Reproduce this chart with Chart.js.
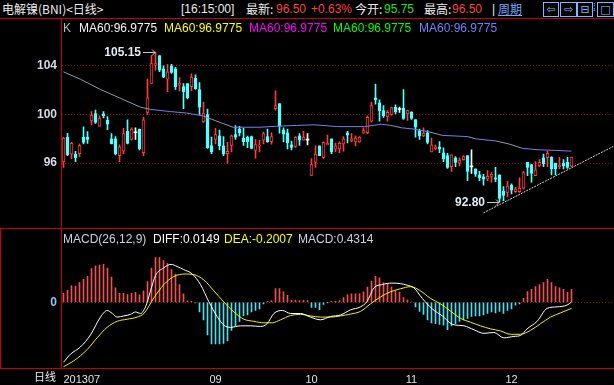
<!DOCTYPE html>
<html>
<head>
<meta charset="utf-8">
<script src="https://cdn.jsdelivr.net/npm/chart.js@4.4.1/dist/chart.umd.min.js"></script>
<style>
  body { margin:0; background:#000; width:614px; height:385px; overflow:hidden; position:relative;
         font-family:'Liberation Sans', Arial, sans-serif; }
  canvas { position:absolute; left:0; }
  .t { position:absolute; white-space:nowrap; font-size:12px; line-height:14px; color:#ececec; }
  .cjk { font-family:'Noto Sans CJK SC', sans-serif; }
  .rl { position:absolute; background:#c80000; }
  .ico { position:absolute; top:2px; height:13px; border:1px solid #7fb8ff; color:#7fb8ff;
         font-size:11px; line-height:13px; text-align:center; font-family:'DejaVu Sans', sans-serif; }
</style>
</head>
<body>
<canvas id="main" width="614" height="209" style="top:19px"></canvas>
<canvas id="macd" width="614" height="156" style="top:229px"></canvas>

<!-- cabecera -->
<div class="t cjk" style="left:2px;top:2px">电解镍(BNI)&lt;日线&gt;</div>
<div class="t" style="left:181px;top:2px">[16:15:00]</div>
<div class="t cjk" style="left:246px;top:2px">最新:</div>
<div class="t" style="left:276px;top:2px;color:#ff4040">96.50</div>
<div class="t" style="left:311px;top:2px;color:#ff4040">+0.63%</div>
<div class="t cjk" style="left:355px;top:2px">今开:</div>
<div class="t" style="left:384px;top:2px;color:#20e020">95.75</div>
<div class="t cjk" style="left:424px;top:2px">最高:</div>
<div class="t" style="left:452px;top:2px;color:#ff4040">96.50</div>
<div class="t" style="left:492px;top:2px">|</div>
<div class="t cjk" style="left:498px;top:2px;color:#70a8ff;text-decoration:underline">周期</div>
<div class="ico" style="left:543px;width:14px">⇦</div>
<div class="ico" style="left:560px;width:15px">⇨</div>
<div class="ico" style="left:577px;width:14px">⊟</div>
<div class="t" style="left:593px;top:1px;color:#7fb8ff;font-size:10px">⁞</div>
<div class="ico" style="left:597px;width:15px">□</div>

<!-- leyendas -->
<div class="t" style="left:63px;top:21px;color:#b4b8c8">K</div>
<div class="t" style="left:79px;top:21px;color:#f4f4f4">MA60:96.9775</div>
<div class="t" style="left:164px;top:21px;color:#ffff00">MA60:96.9775</div>
<div class="t" style="left:249px;top:21px;color:#ff00ff">MA60:96.9775</div>
<div class="t" style="left:333px;top:21px;color:#00ff00">MA60:96.9775</div>
<div class="t" style="left:419px;top:21px;color:#7080ff">MA60:96.9775</div>

<div class="t" style="left:63px;top:232px;color:#c8d2e0">MACD(26,12,9)</div>
<div class="t" style="left:153px;top:232px;color:#ffffff">DIFF:0.0149</div>
<div class="t" style="left:224px;top:232px;color:#ffff00">DEA:-0.2007</div>
<div class="t" style="left:298px;top:232px;color:#c8d2e0">MACD:0.4314</div>

<div class="t cjk" style="left:34px;top:369px;font-size:11px">日线</div>

<!-- bordes rojos -->
<div class="rl" style="left:0;top:18px;width:614px;height:1px"></div>
<div class="rl" style="left:61px;top:18px;width:1px;height:351px"></div>
<div class="rl" style="left:0;top:228px;width:614px;height:1px"></div>
<div class="rl" style="left:0;top:368px;width:614px;height:1px"></div>
<div class="rl" style="left:0;top:228px;width:1px;height:141px"></div>

<script>
// --- DATOS (velas diarias, julio-diciembre 2013) ---
const opens = [96.10, 98.13, 96.73, 96.75, 96.78, 98.11, 98.13, 99.47, 100.07, 99.03,
  100.05, 99.52, 97.99, 97.99, 96.61, 96.97, 98.62, 97.94, 98.50, 98.79,
  96.85, 100.17, 102.55, 104.05, 104.85, 103.76, 102.91, 104.00, 103.76, 102.42,
  102.30, 102.55, 102.30, 102.98, 102.06, 99.39, 100.00, 97.45, 97.94, 98.25,
  97.41, 96.78, 97.45, 98.35, 98.79, 98.06, 98.13, 98.18, 97.04, 97.40,
  97.89, 98.18, 97.77, 100.48, 100.90, 98.71, 98.50, 97.50, 97.38, 98.25,
  97.89, 97.89, 94.98, 96.05, 97.41, 96.44, 97.50, 97.99, 97.14, 97.16,
  97.58, 98.50, 97.82, 97.75, 97.75, 98.47, 98.50, 99.44, 101.38, 100.97,
  100.32, 99.80, 100.00, 100.61, 100.41, 100.53, 100.05, 100.17, 99.59, 98.67,
  98.23, 98.50, 96.92, 97.16, 97.33, 96.85, 96.61, 95.71, 96.44, 96.00,
  96.29, 96.61, 95.68, 95.52, 95.03, 94.86, 94.67, 94.91, 94.79, 95.03,
  93.70, 93.58, 94.18, 93.65, 93.65, 93.94, 96.07, 95.88, 94.96, 95.76,
  96.44, 96.44, 96.48, 96.00, 95.71, 96.00, 96.07, 95.75];
const highs = [98.10, 98.45, 97.70, 96.97, 97.58, 98.98, 98.59, 100.24, 100.36, 99.88,
  100.24, 99.83, 98.42, 98.18, 97.50, 98.86, 99.56, 98.91, 98.91, 98.79,
  99.76, 102.91, 104.85, 105.15, 104.85, 104.00, 104.12, 104.12, 103.88, 103.03,
  102.55, 102.55, 103.35, 103.27, 102.62, 101.02, 100.44, 98.13, 98.86, 98.71,
  98.18, 97.70, 98.30, 99.08, 99.03, 98.86, 98.23, 98.23, 97.94, 97.87,
  98.55, 98.79, 98.50, 101.94, 100.90, 98.91, 98.79, 97.82, 98.18, 98.42,
  98.62, 98.42, 96.36, 97.41, 97.41, 97.75, 98.30, 97.99, 97.65, 97.75,
  98.18, 98.62, 98.42, 98.25, 98.18, 98.91, 99.88, 101.02, 102.50, 101.21,
  100.73, 100.32, 100.61, 100.80, 100.61, 102.06, 100.36, 100.24, 99.59, 98.79,
  98.91, 98.67, 98.06, 97.50, 97.77, 97.26, 96.80, 96.68, 96.53, 96.44,
  96.61, 96.61, 97.09, 95.52, 95.32, 95.08, 95.39, 95.22, 95.64, 95.03,
  94.06, 94.50, 94.30, 94.01, 94.79, 95.32, 96.07, 95.88, 96.12, 96.29,
  96.73, 96.97, 96.53, 96.00, 96.48, 96.29, 96.48, 96.50];
const lows = [95.64, 96.60, 96.36, 96.12, 96.53, 97.58, 97.62, 99.15, 99.27, 99.03,
  99.71, 98.74, 97.58, 96.68, 96.12, 96.78, 97.58, 97.89, 97.94, 97.09,
  96.61, 100.00, 102.55, 103.64, 103.52, 103.03, 101.87, 103.39, 102.06, 101.94,
  100.48, 101.28, 101.94, 102.06, 100.00, 99.35, 97.21, 96.78, 97.58, 97.09,
  96.61, 96.00, 96.92, 97.94, 98.23, 97.45, 97.26, 97.16, 96.41, 96.92,
  97.58, 97.70, 97.55, 100.36, 98.47, 97.75, 97.16, 97.09, 97.26, 97.45,
  97.89, 97.50, 94.98, 95.64, 96.61, 96.39, 97.50, 96.78, 96.92, 96.85,
  96.97, 97.65, 97.75, 97.41, 97.70, 98.47, 98.42, 99.39, 100.85, 99.44,
  99.76, 99.44, 99.93, 100.05, 100.17, 99.59, 99.52, 99.59, 98.13, 97.94,
  98.18, 97.58, 96.92, 97.09, 96.85, 96.12, 95.56, 95.32, 95.71, 95.76,
  96.24, 94.55, 95.15, 94.91, 94.55, 94.18, 94.55, 94.42, 94.47, 92.80,
  92.90, 93.21, 93.45, 93.58, 93.58, 93.87, 94.96, 94.42, 94.96, 95.71,
  95.71, 95.71, 95.03, 95.03, 95.52, 95.52, 95.56, 95.68];
const closes = [98.06, 96.68, 97.62, 96.44, 97.45, 97.70, 97.94, 99.95, 99.35, 99.71,
  99.88, 99.20, 97.58, 96.78, 97.33, 98.42, 97.62, 98.79, 98.50, 97.16,
  99.56, 101.38, 104.19, 104.19, 103.64, 103.08, 103.52, 103.47, 102.30, 102.59,
  101.87, 101.38, 103.08, 102.13, 100.61, 100.07, 97.26, 96.92, 98.35, 97.41,
  96.78, 96.97, 98.25, 98.13, 98.50, 97.77, 97.77, 97.21, 97.53, 97.48,
  98.42, 97.77, 98.18, 100.73, 99.03, 98.38, 97.65, 97.28, 98.13, 97.89,
  98.13, 97.89, 95.88, 96.73, 96.61, 97.70, 97.62, 96.92, 97.41, 97.62,
  97.99, 98.30, 97.99, 98.06, 98.13, 98.67, 99.76, 100.73, 101.21, 100.32,
  99.88, 100.17, 100.56, 100.24, 100.41, 99.68, 100.32, 99.68, 98.96, 98.23,
  98.47, 97.70, 97.50, 97.33, 97.14, 96.36, 95.64, 96.68, 96.05, 96.24,
  96.53, 95.32, 95.68, 95.08, 94.79, 94.67, 94.91, 95.10, 94.67, 93.09,
  93.33, 94.11, 93.77, 93.87, 93.94, 95.22, 95.64, 95.15, 95.44, 96.07,
  95.95, 96.80, 95.52, 95.52, 95.81, 95.76, 95.64, 96.50];

// MA60 (índice de vela, valor)
const maIdx = [0, 4.25, 9.25, 14.25, 19.25, 21.75, 26.75, 30.75, 34.9, 39.1, 42.4, 49.1, 53.25, 58.25, 62.75,
  68.6, 75.25, 79.4, 81.9, 84.4, 87.75, 91.1, 94.75, 101, 103.1, 108.1, 111.4, 114.75, 118.9, 123.1, 127];
const maVals = [103.51, 102.9, 102.06, 101.33, 100.6, 100.42, 100.24, 100.12, 99.88, 99.35, 98.95, 98.95, 99.03, 99.1, 99.15,
  99.0, 99.0, 99.2, 99.1, 98.91, 98.79, 98.59, 98.28, 98.18, 97.99, 97.82, 97.57, 97.21, 97.09, 97.04, 96.98];

// línea de tendencia dibujada a mano
const trendIdx = [105, 137.6];
const trendVals = [91.9, 97.4];

// MACD
const histVals = [0.30, 0.40, 0.56, 0.54, 0.66, 0.76, 0.86, 1.12, 1.21, 1.24,
  1.26, 1.14, 0.84, 0.48, 0.30, 0.30, 0.26, 0.30, 0.33, 0.25,
  0.38, 0.69, 1.14, 1.49, 1.49, 1.39, 1.29, 1.09, 0.94, 0.59,
  0.28, 0.05, 0.03, -0.02, -0.32, -0.58, -1.08, -1.38, -1.38, -1.38,
  -1.36, -1.28, -0.93, -0.78, -0.63, -0.45, -0.42, -0.32, -0.27, -0.22,
  -0.05, 0.03, 0.06, 0.46, 0.46, 0.35, 0.23, 0.07, 0.07, 0.06,
  0.07, 0.06, -0.17, -0.17, -0.24, -0.07, -0.01, 0.03, 0.03, 0.06,
  0.16, 0.25, 0.28, 0.28, 0.28, 0.35, 0.51, 0.71, 0.86, 0.81,
  0.66, 0.61, 0.51, 0.38, 0.33, 0.16, 0.08, 0.02, -0.15, -0.30,
  -0.40, -0.58, -0.68, -0.71, -0.73, -0.76, -0.91, -0.78, -0.71, -0.63,
  -0.58, -0.53, -0.47, -0.45, -0.45, -0.42, -0.37, -0.32, -0.35, -0.30,
  -0.37, -0.27, -0.22, -0.09, -0.05, 0.13, 0.36, 0.43, 0.52, 0.59,
  0.66, 0.76, 0.66, 0.52, 0.48, 0.43, 0.33, 0.43];
const diffIdx = [0, 1.75, 4.25, 6.75, 9.25, 10.9, 12.2, 13.4, 15.1, 16.75, 18, 19.25, 20.5, 21.75, 23,
  25, 26.9, 28.4, 30, 32.2, 34.25, 36.3, 38.4, 40.1, 41.75, 44.25, 46.75, 49.25, 50.9, 52.6,
  54.7, 56.75, 59.25, 61.75, 64.25, 66.75, 69.25, 71.75, 74.25, 75.9, 77.6, 79.7, 82.1, 84.25, 85.9,
  87.6, 89.7, 92.2, 94.7, 97.2, 100.1, 102.6, 105.1, 107.6, 110.1, 112.6, 114.25, 115.9, 118.4, 120.9,
  123.4, 125.9, 127];
const diffVals = [-1.99, -1.72, -1.48, -1.08, -0.49, -0.27, -0.37, -0.49, -0.45, -0.40, -0.32, -0.37, -0.15, 0.38, 0.89,
  1.14, 1.26, 1.19, 1.09, 0.94, 0.59, 0.03, -0.47, -0.76, -0.83, -0.78, -0.78, -0.80, -0.71, -0.37,
  -0.27, -0.37, -0.37, -0.49, -0.58, -0.47, -0.42, -0.25, -0.15, 0.03, 0.48, 0.59, 0.64, 0.62, 0.57,
  0.48, 0.13, -0.22, -0.45, -0.73, -0.78, -0.91, -1.03, -1.00, -1.18, -1.13, -1.10, -0.88, -0.63, -0.20,
  -0.15, -0.09, 0.01];
const deaIdx = [0, 2.6, 5.9, 8.4, 10.9, 13.4, 15.9, 18.4, 20.1, 22.6, 25.1, 27.6, 30.5, 32.6, 35.1, 37.6,
  40.1, 42.6, 45.1, 47.6, 50.1, 52.2, 54.25, 56.75, 59.25, 61.75, 64.25, 66.75, 69.25, 71.75, 74.25,
  76.75, 79.25, 81.75, 84.25, 86.75, 89.25, 91.75, 94.25, 96.75, 99.25, 101.75, 104.25, 106.75, 109.25,
  111.75, 114.25, 116.75, 119.25, 121.75, 124.25, 127];
const deaVals = [-2.14, -1.94, -1.57, -1.18, -0.83, -0.63, -0.56, -0.49, -0.37, 0.15, 0.59, 0.86, 0.94, 0.92, 0.74, 0.38,
  0.01, -0.32, -0.56, -0.63, -0.68, -0.68, -0.58, -0.44, -0.40, -0.45, -0.49, -0.49, -0.45, -0.39, -0.30,
  -0.05, 0.18, 0.35, 0.45, 0.52, 0.38, 0.13, -0.05, -0.29, -0.53, -0.66, -0.78, -0.88, -0.95,
  -1.06, -1.06, -0.93, -0.71, -0.49, -0.35, -0.20];

// ejes
const priceTicks = [96, 100, 104];
const macdTicks = [0];
const monthIdx = [0, 38, 62, 87, 112];
const monthLabels = ['201307', '09', '10', '11', '12'];

// --- ESTILO ---
const UP = '#ff3c3c', DOWN = '#54ffff', FLAT = '#ffffff';
const GRID = '#a00000';
const X_MIN = -0.375, X_MAX = 137.625;   // 4px por vela, empieza en x=62
Chart.defaults.font.family = '"Liberation Sans", Arial, sans-serif';

function candleColor(i) {
    if (closes[i] > opens[i]) return UP;
    if (closes[i] < opens[i]) return DOWN;
    return FLAT;
}
const fixWidth = axis => { axis.width = 62; };
const toPoints = (xs, ys) => xs.map((x, k) => ({ x, y: ys[k] }));

// etiquetas de máximo y mínimo con flecha
const extremaLabels = {
    id: 'extremaLabels',
    afterDatasetsDraw(chart) {
        const { ctx, scales: { x, y } } = chart;
        const hi = highs.indexOf(Math.max(...highs));
        const lo = lows.indexOf(Math.min(...lows));
        [[hi, highs[hi]], [lo, lows[lo]]].forEach(([i, v]) => {
            const px = Math.round(x.getPixelForValue(i));
            const py = Math.round(y.getPixelForValue(v)) + 0.5;
            ctx.save();
            ctx.strokeStyle = '#c8c8c8';
            ctx.lineWidth = 1;
            ctx.beginPath();
            ctx.moveTo(px - 13, py); ctx.lineTo(px - 1, py);
            ctx.moveTo(px - 4, py - 3); ctx.lineTo(px - 1, py); ctx.lineTo(px - 4, py + 3);
            ctx.stroke();
            ctx.fillStyle = '#e2eaf4';
            ctx.font = 'bold 12px "Liberation Sans", Arial';
            ctx.textAlign = 'right';
            ctx.textBaseline = 'middle';
            ctx.fillText(v.toFixed(2), px - 15, py);
            ctx.restore();
        });
    }
};

const baseOpts = {
    responsive: false,
    animation: false,
    devicePixelRatio: 1,
    layout: { padding: 0 },
    plugins: { legend: { display: false }, tooltip: { enabled: false } }
};

// --- GRÁFICO DE VELAS ---
new Chart(document.getElementById('main'), {
    type: 'bar',
    data: {
        datasets: [
            {
                type: 'line', data: toPoints(trendIdx, trendVals), borderColor: '#d0d0d0',
                borderWidth: 1, borderDash: [2, 1], pointRadius: 0, order: 1
            },
            {
                type: 'line', data: toPoints(maIdx, maVals), borderWidth: 1, pointRadius: 0, order: 2,
                segment: {
                    borderColor: c => Math.abs(c.p1.parsed.y - c.p0.parsed.y) / (c.p1.parsed.x - c.p0.parsed.x) > 0.06 ? '#8a9aa8' : '#7c7cf0'
                }
            },
            {
                data: opens.map((o, i) => ({ x: i, y: [o, closes[i]] })),
                barThickness: 3, grouped: false, minBarLength: 1, borderSkipped: false, order: 3,
                backgroundColor: c => closes[c.dataIndex] > opens[c.dataIndex] ? '#000' : candleColor(c.dataIndex),
                borderColor: c => candleColor(c.dataIndex),
                borderWidth: c => closes[c.dataIndex] === opens[c.dataIndex] ? 0 : 1
            },
            {
                data: highs.map((h, i) => ({ x: i, y: [lows[i], h] })),
                barThickness: 1, grouped: false, borderWidth: 0, order: 4,
                backgroundColor: c => candleColor(c.dataIndex)
            }
        ]
    },
    options: {
        ...baseOpts,
        scales: {
            x: { type: 'linear', offset: false, min: X_MIN, max: X_MAX, display: false },
            y: {
                min: 91.658, max: 106.858,
                afterFit: fixWidth,
                afterBuildTicks: ax => { ax.ticks = priceTicks.map(v => ({ value: v })); },
                grid: { color: GRID, drawTicks: false },
                border: { display: false, dash: [1, 2] },
                ticks: { color: '#d4dae6', padding: 5, font: { size: 12, weight: 'bold' } }
            }
        }
    },
    plugins: [extremaLabels]
});

// --- GRÁFICO MACD ---
new Chart(document.getElementById('macd'), {
    type: 'bar',
    data: {
        datasets: [
            {
                type: 'line', data: toPoints(diffIdx, diffVals), borderColor: '#ffffff', borderWidth: 1,
                pointRadius: 0, cubicInterpolationMode: 'monotone', order: 1
            },
            {
                type: 'line', data: toPoints(deaIdx, deaVals), borderColor: '#f0f000', borderWidth: 1,
                pointRadius: 0, cubicInterpolationMode: 'monotone', order: 2
            },
            {
                data: histVals.map((v, i) => ({ x: i, y: v })),
                barThickness: 1, grouped: false, borderWidth: 0, order: 3,
                backgroundColor: c => histVals[c.dataIndex] >= 0 ? '#f05050' : '#48e0f0'
            }
        ]
    },
    options: {
        ...baseOpts,
        scales: {
            x: {
                type: 'linear', offset: false, min: X_MIN, max: X_MAX,
                afterBuildTicks: ax => { ax.ticks = monthIdx.map(v => ({ value: v })).concat([{ value: X_MAX }]); },
                afterFit: ax => { ax.height = 17; },
                grid: { display: false, offset: false },
                border: { display: false },
                ticks: {
                    autoSkip: false, maxRotation: 0, align: 'inner', padding: -3,
                    color: '#e0e0e0', font: { size: 11 },
                    callback: (v, k) => monthLabels[k] ?? ''
                }
            },
            y: {
                min: -2.18, max: 2.03,
                afterFit: fixWidth,
                afterBuildTicks: ax => { ax.ticks = macdTicks.map(v => ({ value: v })); },
                grid: { color: GRID, drawTicks: false },
                border: { display: false, dash: [1, 2] },
                ticks: { color: '#8cc4ff', padding: 5, font: { size: 12, weight: 'bold' } }
            }
        }
    }
});
</script>
</body>
</html>
